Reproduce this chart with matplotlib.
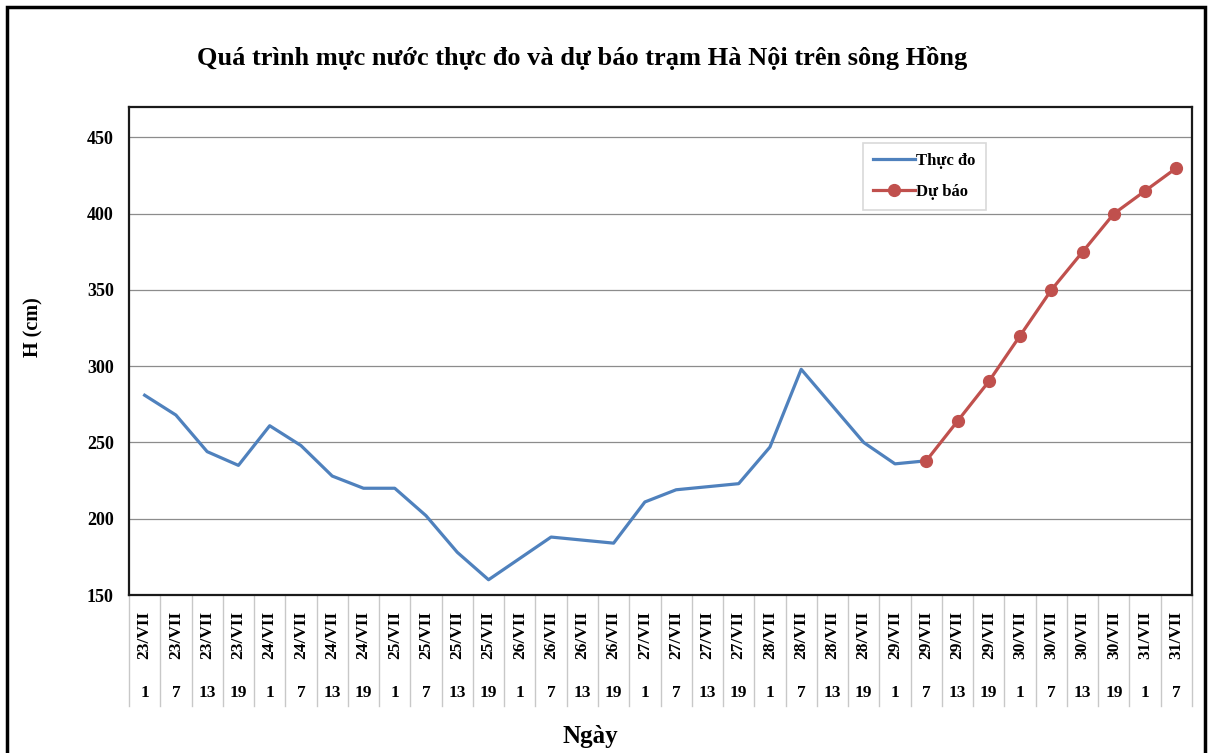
import numpy as np
import matplotlib
matplotlib.use('Agg')
import matplotlib.pyplot as plt
from matplotlib.patches import Rectangle
import matplotlib.transforms as mtransforms

plt.rcParams['font.family'] = ['Liberation Serif', 'DejaVu Serif']
plt.rcParams['font.weight'] = 'bold'

# data
dates = ['23/VII'] * 4 + ['24/VII'] * 4 + ['25/VII'] * 4 + ['26/VII'] * 4 + \
        ['27/VII'] * 4 + ['28/VII'] * 4 + ['29/VII'] * 4 + ['30/VII'] * 4 + ['31/VII'] * 2
hours = ['1', '7', '13', '19'] * 8 + ['1', '7']
observed = [281, 268, 244, 235, 261, 248, 228, 220, 220, 202, 178, 160,
            174, 188, 186, 184, 211, 219, 221, 223, 247, 298, 274, 250, 236, 238]
forecast = [238, 264, 290, 320, 350, 375, 400, 415, 430]
forecast_start = 25

W, H = 1210, 753
fig = plt.figure(figsize=(W / 100, H / 100), dpi=100)
ax = fig.add_axes([129 / W, (H - 595) / H, (1192 - 129) / W, (595 - 107) / H])

x_obs = np.arange(len(observed))
x_fc = np.arange(forecast_start, forecast_start + len(forecast))
ax.plot(x_obs, observed, color='#4F81BD', lw=2.3, label='Thực đo', zorder=3)
ax.plot(x_fc, forecast, color='#C0504D', lw=2.3, marker='o', markersize=8.5,
        label='Dự báo', zorder=4)

ax.set_xlim(-0.5, len(dates) - 0.5)
ax.set_ylim(150, 470)
ax.set_yticks(np.arange(150, 451, 50))
ax.yaxis.grid(True, color='#8c8c8c', lw=0.9)
ax.set_axisbelow(True)
ax.tick_params(axis='y', length=0, pad=11, labelsize=13)
ax.set_xticks([])
for s in ax.spines.values():
    s.set_color('#1a1a1a')
    s.set_linewidth(1.6)

# two-level category labels
trans = mtransforms.blended_transform_factory(ax.transData, ax.transAxes)
sep_bottom = -(706 - 595) / 488
for i in range(len(dates) + 1):
    ax.plot([i - 0.5, i - 0.5], [0, sep_bottom], color='#c8c8c8', lw=1,
            transform=trans, clip_on=False)
for i, (d, h) in enumerate(zip(dates, hours)):
    ax.text(i, -(635 - 595) / 488, d, rotation=90, ha='center', va='center',
            fontsize=12.5, transform=trans)
    ax.text(i, -(693 - 595) / 488, h, ha='center', va='center',
            fontsize=12.5, transform=trans)

fig.text(582 / W, 1 - 58 / H, 'Quá trình mực nước thực đo và dự báo trạm Hà Nội trên sông Hồng',
         ha='center', va='center', fontsize=19, fontweight='bold')
fig.text(33 / W, 1 - 327 / H, 'H (cm)', rotation=90, ha='center', va='center',
         fontsize=14.5, fontweight='bold')
fig.text(590 / W, 1 - 736 / H, 'Ngày', ha='center', va='center',
         fontsize=18, fontweight='bold')

leg = ax.legend(loc='upper left', bbox_to_anchor=(863 / W, 1 - 143 / H),
                bbox_transform=fig.transFigure, fancybox=False, fontsize=12,
                borderaxespad=0, handlelength=2.5, handletextpad=0.1,
                borderpad=0.6, labelspacing=0.9)
leg.get_frame().set_edgecolor('#d0d0d0')
leg.get_frame().set_linewidth(1.2)

fig.patches.append(Rectangle((7 / W, -0.02), (1205 - 7) / W, 1.02 - 7 / H,
                             transform=fig.transFigure, fill=False,
                             edgecolor='black', lw=2.5))

plt.savefig('out.png', dpi=100)
